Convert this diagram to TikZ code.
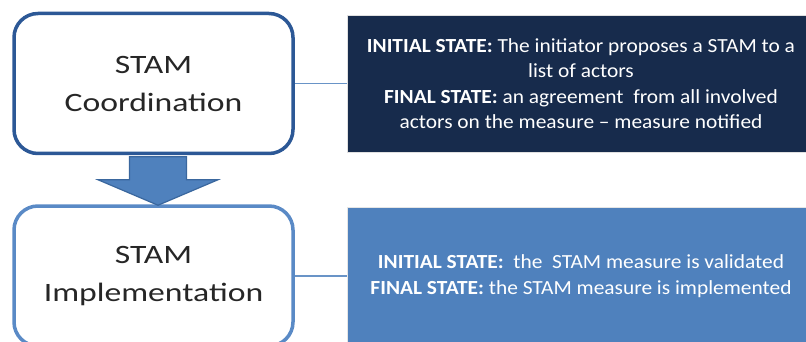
\documentclass[tikz,border=0pt]{standalone}
\usepackage{fontspec}
\setmainfont{Carlito}
\newfontfamily\stagefont[FakeStretch=1.27]{Carlito}
\newfontfamily\statefont[FakeStretch=1.07,Ligatures=TeX]{Carlito}
\usetikzlibrary{calc}

\definecolor{navybox}{HTML}{172B4C}
\definecolor{bluebox}{HTML}{4F81BD}
\definecolor{darkrim}{HTML}{2C5896}
\definecolor{lightrim}{HTML}{5A8AC6}
\definecolor{arrowrim}{HTML}{3A679E}
\definecolor{stagetext}{HTML}{262626}

\tikzset{
  stagebox/.style={draw, rounded corners=24pt, line width=3.5pt, fill=white,
    minimum width=279pt, minimum height=140pt, inner sep=0pt, align=center,
    text=stagetext, font=\stagefont\fontsize{26.5}{38}\selectfont},
  statebox/.style={minimum width=468pt, inner sep=0pt, align=center,
    text=white, font=\statefont\fontsize{20}{25.5}\selectfont},
  link/.style={draw=bluebox!85!white, line width=1.3pt},
  blockarrow/.style={fill=bluebox, draw=arrowrim, line width=1.2pt, line join=miter}
}

\begin{document}
\begin{tikzpicture}[x=1pt, y=-1pt]
  \useasboundingbox (0,0) rectangle (806,342);
  \clip (0,0) rectangle (806,342);

  % the two stages
  \node[stagebox, draw=darkrim]  (coord) at (153.5,83.5) {STAM\\Coordination};
  \node[stagebox, draw=lightrim] (impl)  at (153.5,276)  {STAM\\Implementation};

  % state descriptions
  \node[statebox, fill=navybox, minimum height=137pt, draw=black!12, line width=0.8pt]
    (coordstate) at (581,83.5)
    {\textbf{INITIAL STATE:} The initiator proposes a STAM to a\\
     list of actors\\
     \textbf{FINAL STATE:} an agreement\ \ from all involved\\
     actors on the measure \textendash\ measure notified};
  \node[statebox, fill=bluebox, minimum height=138pt, draw=black!10, line width=0.8pt]
    (implstate) at (581,276)
    {\textbf{INITIAL STATE:}\ \ the\ \ STAM measure is validated\\
     \textbf{FINAL STATE:} the STAM measure is implemented};

  % links from each stage to its states
  \draw[link] (coord.east) -- (coordstate.west);
  \draw[link] (impl.east) -- (implstate.west);

  % block arrow from the first stage to the second
  \path ($(coord.south)+(4.5,0)$) coordinate (flowtop)
        ($(impl.north)+(4.5,1)$) coordinate (flowtip);
  \draw[blockarrow]
    ($(flowtop)+(-28.5,1.5)$) -- ($(flowtop)+(28.5,1.5)$) --
    ($(flowtop)+(28.5,24.5)$) -- ($(flowtop)+(60,24.5)$) --
    (flowtip) --
    ($(flowtop)+(-60,24.5)$) -- ($(flowtop)+(-28.5,24.5)$) -- cycle;
\end{tikzpicture}
\end{document}
